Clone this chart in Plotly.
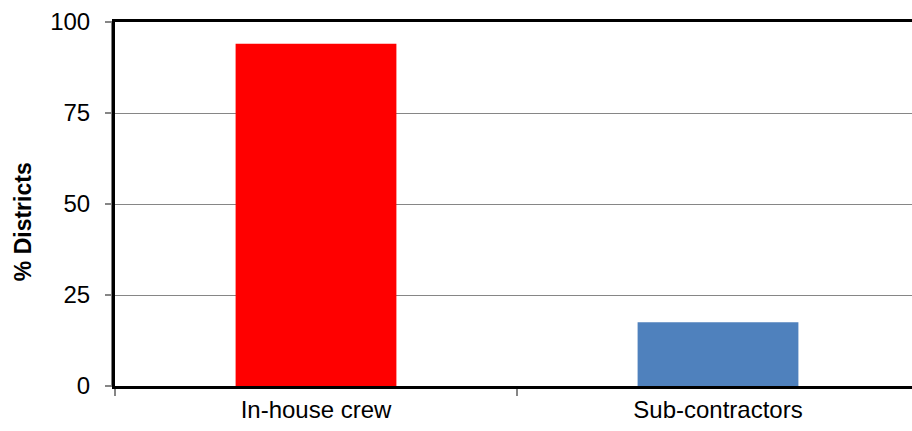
import plotly.graph_objects as go

categories = ["In-house crew", "Sub-contractors"]
values = [94, 17.5]
colors = ["#ff0000", "#4f81bd"]
y_ticks = [0, 25, 50, 75, 100]
y_title = "% Districts"

FONT = "Arial, Liberation Sans, sans-serif"

fig = go.Figure()
fig.add_trace(go.Bar(
    x=categories, y=values, marker=dict(color=colors, line=dict(width=0)),
    width=0.4, showlegend=False, hoverinfo="skip",
))

fig.update_layout(
    width=912, height=431,
    margin=dict(l=115, r=0, t=22, b=45),
    paper_bgcolor="white", plot_bgcolor="white",
    font=dict(family=FONT, size=24, color="#000000"),
)
fig.update_xaxes(
    range=[-0.5, -0.5 + 797 / 402],
    showline=True, linecolor="#000000", linewidth=3, mirror=True,
    tickson="boundaries", ticks="outside", ticklen=7, tickcolor="#868686", tickwidth=2,
    showgrid=False, tickfont=dict(size=24),
)
fig.update_yaxes(
    range=[0, 100], tickvals=y_ticks,
    showline=True, linecolor="#000000", linewidth=3,
    ticks="outside", ticklen=7, tickcolor="#868686", tickwidth=2,
    ticklabelstandoff=10,
    showgrid=True, gridcolor="#868686", gridwidth=1,
    tickfont=dict(size=24),
    zeroline=False,
)
fig.add_annotation(
    text="<b>" + y_title + "</b>", textangle=-90,
    xref="paper", yref="paper", x=0, y=0.45, xanchor="center", yanchor="middle",
    xshift=-92, showarrow=False, font=dict(size=23, family=FONT, color="#000000"),
)
# thin grey companion line left of the y axis
fig.add_shape(
    type="line", xref="paper", yref="paper", xsizemode="pixel", xanchor=0,
    x0=-3.5, x1=-3.5, y0=0, y1=1, line=dict(color="#7f7f7f", width=1),
)

fig.write_html(
    "out.html",
    config={"displayModeBar": False},
    post_script="document.body.style.margin='0';document.body.style.overflow='hidden';",
)
